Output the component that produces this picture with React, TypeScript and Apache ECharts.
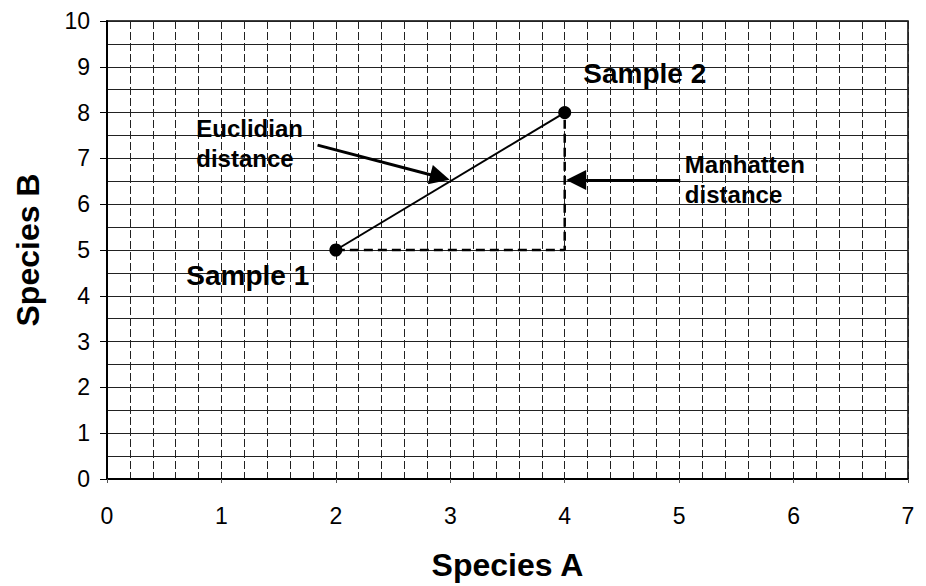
import React, { useEffect, useRef } from "react";
import * as echarts from "echarts";

// Samples
const sampleNames = ["Sample 1", "Sample 2"];
const speciesA = [2, 4];
const speciesB = [5, 8];

// Axis ranges / ticks
const xTicks = [0, 1, 2, 3, 4, 5, 6, 7];
const yTicks = [0, 1, 2, 3, 4, 5, 6, 7, 8, 9, 10];

// Annotation texts and their anchor positions (data units)
const annotationTexts = ["Sample 1", "Sample 2", "Euclidian\ndistance", "Manhatten\ndistance"];
const annotationX = [1.23, 4.7, 0.78, 5.05];
const annotationY = [4.45, 8.85, 7.33, 6.53];
const annotationAlign = ["center", "center", "left", "left"];
const annotationSize = [28, 28, 24, 24];

// Arrows (data units)
const arrowFromX = [1.84, 5.01];
const arrowFromY = [7.29, 6.53];
const arrowToX = [2.91, 4.1];
const arrowToY = [6.59, 6.53];

const FONT = "'Liberation Sans', Arial, Helvetica, sans-serif";

export default function App() {
  const ref = useRef<HTMLDivElement>(null);
  useEffect(() => {
    if (!ref.current) return;
    const chart = echarts.init(ref.current, null, { renderer: "svg" });

    const euclid = speciesA.map((x, i) => [x, speciesB[i]]);
    const manhattan = [
      [speciesA[0], speciesB[0]],
      [speciesA[1], speciesB[0]],
      [speciesA[1], speciesB[1]],
    ];

    const gridColor = "#222";

    chart.setOption({
      animation: false,
      backgroundColor: "#ffffff",
      grid: {
        left: 107,
        right: 18,
        top: 21,
        bottom: 103,
        show: true,
        borderColor: "#000",
        borderWidth: 1.5,
        backgroundColor: "transparent",
      },
      xAxis: {
        type: "value",
        min: xTicks[0],
        max: xTicks[xTicks.length - 1],
        interval: 1,
        name: "Species A",
        nameLocation: "middle",
        nameGap: 70,
        nameTextStyle: { fontFamily: FONT, fontWeight: "bold", fontSize: 32, color: "#000" },
        axisLine: { show: true, onZero: false, lineStyle: { color: "#000", width: 2 } },
        axisTick: { show: true, length: 4, lineStyle: { color: "#555", width: 1 } },
        axisLabel: { fontFamily: FONT, fontSize: 23, color: "#000", margin: 25 },
        splitLine: { show: true, lineStyle: { color: gridColor, width: 1, type: [8, 3] } },
        minorTick: { show: false, splitNumber: 5 },
        minorSplitLine: { show: true, lineStyle: { color: gridColor, width: 1, type: [8, 3] } },
      },
      yAxis: {
        type: "value",
        min: yTicks[0],
        max: yTicks[yTicks.length - 1],
        interval: 1,
        name: "Species B",
        nameLocation: "middle",
        nameGap: 63,
        nameTextStyle: { fontFamily: FONT, fontWeight: "bold", fontSize: 32, color: "#000" },
        axisLine: { show: true, onZero: false, lineStyle: { color: "#000", width: 2 } },
        axisTick: { show: true, length: 7, lineStyle: { color: "#000", width: 1 } },
        axisLabel: { fontFamily: FONT, fontSize: 23, color: "#000", margin: 17 },
        splitLine: { show: true, lineStyle: { color: gridColor, width: 1 } },
        minorTick: { show: false, splitNumber: 2 },
        minorSplitLine: { show: true, lineStyle: { color: gridColor, width: 1 } },
      },
      series: [
        {
          type: "line",
          name: "Manhattan",
          data: manhattan,
          showSymbol: false,
          symbol: "none",
          lineStyle: { color: "#000", width: 2.5, type: [9, 5] },
          silent: true,
          z: 3,
        },
        {
          type: "line",
          name: "Euclidian",
          data: euclid,
          symbol: "circle",
          symbolSize: 13,
          itemStyle: { color: "#000" },
          lineStyle: { color: "#000", width: 2 },
          silent: true,
          z: 4,
        },
        {
          type: "lines",
          coordinateSystem: "cartesian2d",
          data: arrowFromX.map((x, i) => ({
            coords: [
              [x, arrowFromY[i]],
              [arrowToX[i], arrowToY[i]],
            ],
          })),
          symbol: ["none", "triangle"],
          symbolSize: 20,
          lineStyle: { color: "#000", width: 3, opacity: 1, curveness: 0 },
          silent: true,
          z: 5,
        },
        {
          type: "scatter",
          data: annotationTexts.map((t, i) => ({
            value: [annotationX[i], annotationY[i]],
            name: t,
            label: {
              show: true,
              position: "inside",
              formatter: t,
              align: annotationAlign[i],
              verticalAlign: "middle",
              fontFamily: FONT,
              fontWeight: "bold",
              fontSize: annotationSize[i],
              lineHeight: 30,
              color: "#000",
              opacity: 1,
            },
          })),
          symbolSize: 1,
          itemStyle: { color: "rgba(0,0,0,0)" },
          silent: true,
          z: 6,
        },
      ],
    });
    return () => chart.dispose();
  }, []);

  return (
    <div
      ref={ref}
      style={{ position: "fixed", left: 0, top: 0, width: 926, height: 586, background: "#fff" }}
    />
  );
}
